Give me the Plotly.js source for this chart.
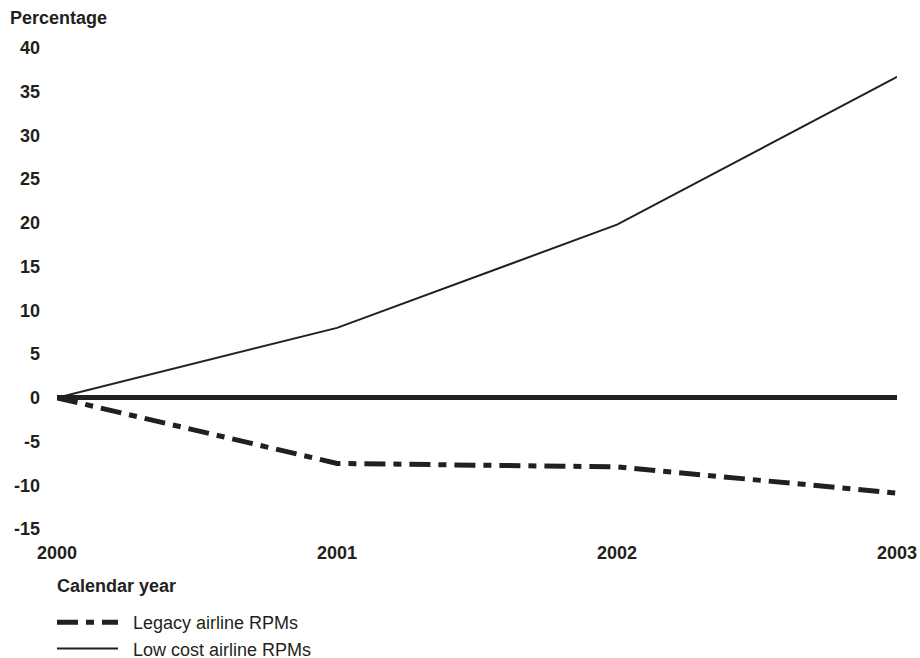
<!DOCTYPE html>
<html>
<head>
<meta charset="utf-8">
<script src="https://cdn.plot.ly/plotly-3.0.1.min.js"></script>
<style>html,body{margin:0;padding:0;background:#fff;}#chart{width:920px;height:658px;}</style>
</head>
<body>
<div id="chart"></div>
<script>
var years = [2000, 2001, 2002, 2003];
var legacyRPMs = [0, -7.5, -7.9, -10.9];
var lowCostRPMs = [0, 8, 19.8, 36.7];
var seriesNames = ['Legacy airline RPMs', 'Low cost airline RPMs'];
var yTicks = [-15, -10, -5, 0, 5, 10, 15, 20, 25, 30, 35, 40];
var yTickText = ['-15', '-10', '-5', '0', '5', '10', '15', '20', '25', '30', '35', '40'];
var xTickText = ['2000', '2001', '2002', '2003'];

var ink = '#231f20';
var fam = 'Liberation Sans, Arial, Helvetica, sans-serif';
var nb = '\u00a0\u00a0';

var traces = [
  {x: years, y: legacyRPMs, name: nb + seriesNames[0], mode: 'lines', type: 'scatter',
   line: {color: ink, width: 5, dash: '21px,8px,8px,8px'}, cliponaxis: false},
  {x: years, y: lowCostRPMs, name: nb + seriesNames[1], mode: 'lines', type: 'scatter',
   line: {color: ink, width: 2}, cliponaxis: false}
];

var plotL = 57, plotR = 897, plotT = 48, plotB = 529;

var layout = {
  width: 920, height: 658,
  margin: {l: plotL, r: 920 - plotR, t: plotT, b: 658 - plotB, autoexpand: false},
  paper_bgcolor: '#fff', plot_bgcolor: '#fff',
  font: {family: fam, size: 18, color: ink},
  title: {text: 'Percentage', x: 10/920, xref: 'container', xanchor: 'left',
          y: 1 - 18/658, yref: 'container', yanchor: 'middle',
          font: {family: fam, size: 18, weight: 'bold', color: ink}},
  xaxis: {range: [2000, 2003], tickvals: years, ticktext: xTickText,
          showgrid: false, zeroline: false, showline: false, ticks: '',
          ticklabelstandoff: 11, automargin: false,
          tickfont: {family: fam, size: 18, weight: 'bold', color: ink}},
  yaxis: {range: [-15, 40], tickvals: yTicks, ticktext: yTickText, showgrid: false,
          zeroline: true, zerolinecolor: ink, zerolinewidth: 5,
          showline: false, ticks: '', ticklabelstandoff: 16, automargin: false,
          tickfont: {family: fam, size: 18, weight: 'bold', color: ink}},
  annotations: [
    {text: 'Calendar year', xref: 'paper', yref: 'paper',
     x: (55 - plotL) / (plotR - plotL), y: (plotB - 586) / (plotB - plotT),
     xanchor: 'left', yanchor: 'middle',
     showarrow: false, font: {family: fam, size: 18, weight: 'bold', color: ink}}
  ],
  showlegend: true,
  legend: {x: 52/920, xref: 'container', xanchor: 'left',
           y: 1 - 604/658, yref: 'container', yanchor: 'top',
           orientation: 'v', itemwidth: 61,
           bgcolor: 'rgba(0,0,0,0)',
           font: {family: fam, size: 18, color: ink}}
};

Plotly.newPlot('chart', traces, layout, {displayModeBar: false, staticPlot: true});
</script>
</body>
</html>
